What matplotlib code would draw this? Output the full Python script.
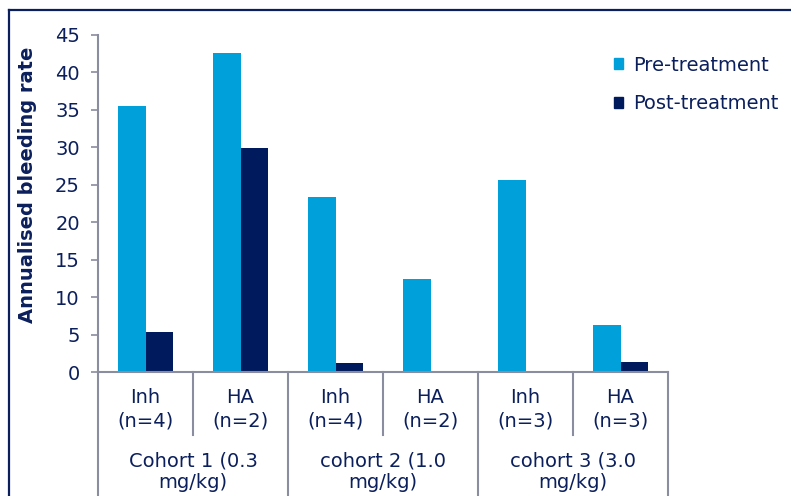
import matplotlib.pyplot as plt
from matplotlib.lines import Line2D
from matplotlib.patches import Patch
import numpy as np

categories = ["Inh\n(n=4)", "HA\n(n=2)", "Inh\n(n=4)", "HA\n(n=2)", "Inh\n(n=3)", "HA\n(n=3)"]
groups = ["Cohort 1 (0.3\nmg/kg)", "cohort 2 (1.0\nmg/kg)", "cohort 3 (3.0\nmg/kg)"]
pre = [35.5, 42.6, 23.4, 12.4, 25.6, 6.3]
post = [5.4, 29.9, 1.2, 0, 0, 1.4]
yticks = [0, 5, 10, 15, 20, 25, 30, 35, 40, 45]

pre_col = "#00A0DA"
post_col = "#001A5E"
text_col = "#0B1F5C"
grey = "#8A8CA0"

W, H = 791, 496
fig = plt.figure(figsize=(W / 100, H / 100), dpi=100)
# axes box in pixels: x 98..668, y 35..372
ax = fig.add_axes([98 / W, 1 - 372 / H, (668 - 98) / W, (372 - 35) / H])

x = np.arange(len(categories)) + 0.5
bw = 0.29
ax.bar(x - bw / 2, pre, bw, color=pre_col, label="Pre-treatment")
ax.bar(x + bw / 2, post, bw, color=post_col, label="Post-treatment")

ax.set_xlim(0, 6)
ax.set_ylim(0, 45)
ax.set_yticks(yticks)
ax.set_xticks([])
ax.tick_params(axis="y", direction="out", length=5, width=1.2, color=grey,
               labelsize=14, labelcolor=text_col, pad=8)
for s in ["top", "right"]:
    ax.spines[s].set_visible(False)
for s in ["left", "bottom"]:
    ax.spines[s].set_color(grey)
    ax.spines[s].set_linewidth(1.5)

# category separators and labels below axis
tr = ax.get_xaxis_transform()
bottom_frac = -(H - 372) / (372 - 35)
for i in range(7):
    y_end = bottom_frac if i % 2 == 0 else -0.187
    ax.plot([i, i], [0, y_end], color=grey, lw=1.5, transform=tr, clip_on=False)
for xi, lab in zip(x, categories):
    ax.text(xi, -0.11, lab, transform=tr, ha="center", va="center",
            fontsize=14, color=text_col, linespacing=1.3)
for gi, g in enumerate(groups):
    ax.text(2 * gi + 1, -0.297, g, transform=tr, ha="center", va="center",
            fontsize=14, color=text_col, linespacing=1.15)

fig.text(28 / W, 1 - 185 / H, "Annualised bleeding rate", rotation=90,
         ha="center", va="center", fontsize=14, fontweight="bold", color=text_col)

handles = [Patch(color=pre_col), Patch(color=post_col)]
leg = ax.legend(handles, ["Pre-treatment", "Post-treatment"], loc="upper left",
                bbox_to_anchor=(604 / W, 1 - 46 / H), bbox_transform=fig.transFigure,
                frameon=False, fontsize=14, handlelength=0.5, handleheight=0.5,
                handletextpad=0.5, labelspacing=1.0, borderpad=0)
for t in leg.get_texts():
    t.set_color(text_col)

# outer frame lines
fig.add_artist(Line2D([8.5 / W, 8.5 / W], [0, 1 - 10 / H], color="#0B1F5C", lw=1.6))
fig.add_artist(Line2D([8.5 / W, 1], [1 - 10 / H, 1 - 10 / H], color="#0B1F5C", lw=1.6))

fig.savefig("out.png", dpi=100)
